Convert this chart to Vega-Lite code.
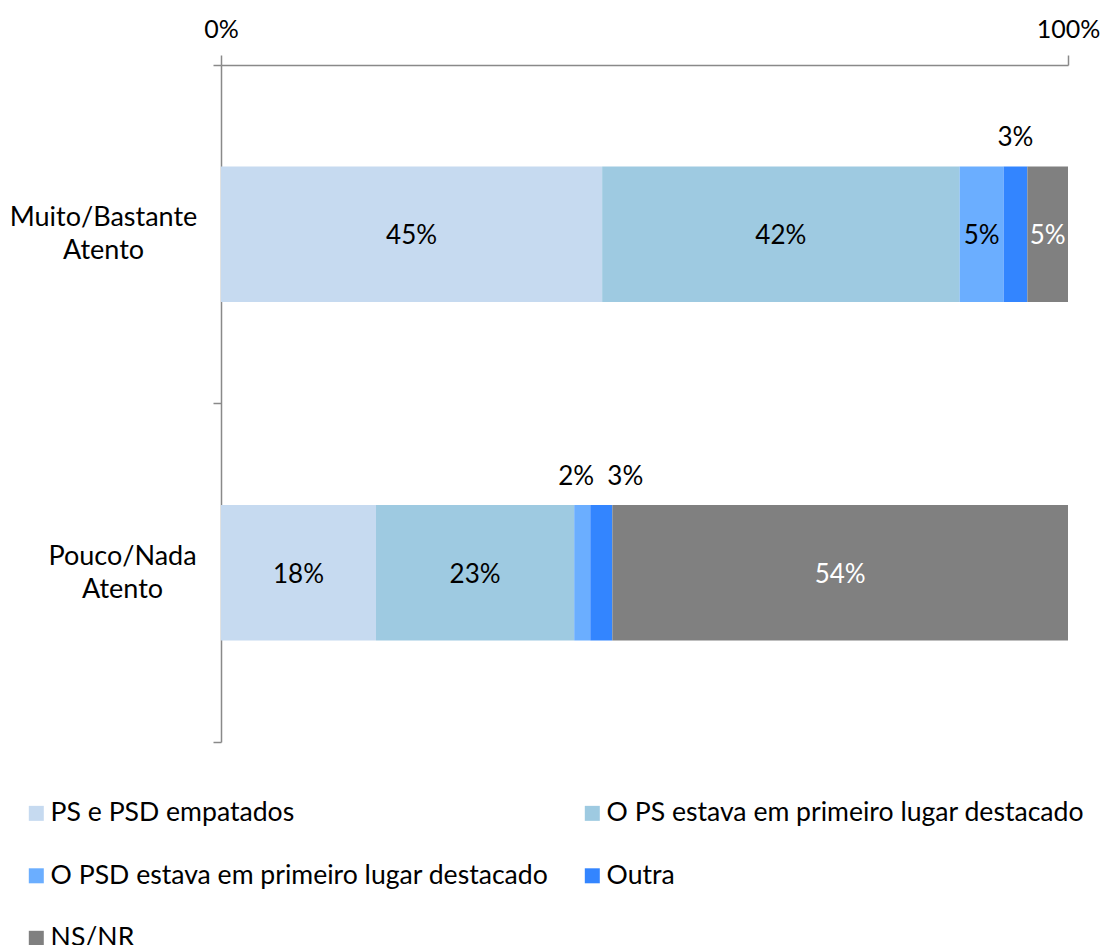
{
  "$schema": "https://vega.github.io/schema/vega-lite/v6.json",
  "width": 847,
  "height": 677,
  "autosize": "none",
  "padding": {"left": 221, "top": 65, "right": 37, "bottom": 203},
  "background": "white",
  "config": {
    "font": "Lato",
    "view": {"stroke": null},
    "axis": {"domainColor": "#898989", "tickColor": "#898989", "domainWidth": 1.5, "tickWidth": 1.5, "labelColor": "black", "labelFont": "Lato", "labelFontSize": 26, "grid": false}
  },
  "data": {
    "values": [
      {"cat": "Muito/Bastante Atento", "serie": "PS e PSD empatados", "k": 1, "value": 0.450},
      {"cat": "Muito/Bastante Atento", "serie": "O PS estava em primeiro lugar destacado", "k": 2, "value": 0.422},
      {"cat": "Muito/Bastante Atento", "serie": "O PSD estava em primeiro lugar destacado", "k": 3, "value": 0.052},
      {"cat": "Muito/Bastante Atento", "serie": "Outra", "k": 4, "value": 0.028},
      {"cat": "Muito/Bastante Atento", "serie": "NS/NR", "k": 5, "value": 0.048},
      {"cat": "Pouco/Nada Atento", "serie": "PS e PSD empatados", "k": 1, "value": 0.183},
      {"cat": "Pouco/Nada Atento", "serie": "O PS estava em primeiro lugar destacado", "k": 2, "value": 0.234},
      {"cat": "Pouco/Nada Atento", "serie": "O PSD estava em primeiro lugar destacado", "k": 3, "value": 0.019},
      {"cat": "Pouco/Nada Atento", "serie": "Outra", "k": 4, "value": 0.026},
      {"cat": "Pouco/Nada Atento", "serie": "NS/NR", "k": 5, "value": 0.538}
    ]
  },
  "encoding": {
    "y": {
      "field": "cat", "type": "nominal", "title": null,
      "sort": ["Muito/Bastante Atento", "Pouco/Nada Atento"],
      "scale": {"paddingInner": 0, "paddingOuter": 0},
      "axis": {
        "bandPosition": 1, "tickExtra": true, "tickSize": 8,
        "labelAlign": "center", "labelLineHeight": 33, "labelLimit": 400, "labelFontSize": 27,
        "labelOffset": -16,
        "labelPadding": {"condition": {"test": "datum.value === 'Muito/Bastante Atento'", "value": 110}, "value": 91},
        "labelExpr": "split(datum.label, ' ')"
      }
    },
    "order": {"field": "k", "type": "quantitative"}
  },
  "layer": [
    {
      "mark": {"type": "bar", "height": {"band": 0.4}},
      "encoding": {
        "x": {"field": "value", "type": "quantitative", "stack": "normalize", "scale": {"domain": [0, 1]}, "title": null,
          "axis": {"orient": "top", "values": [0, 1], "format": ".0%", "tickSize": 10, "labelPadding": 13, "labelFontSize": 25, "labelFlush": false}},
        "color": {
          "field": "serie", "type": "nominal",
          "scale": {
            "domain": ["PS e PSD empatados", "O PS estava em primeiro lugar destacado", "O PSD estava em primeiro lugar destacado", "Outra", "NS/NR"],
            "range": ["#C6DAF0", "#9ECAE1", "#6BAEFF", "#3385FF", "#808080"]
          },
          "legend": {
            "title": null, "orient": "none", "legendX": -198, "legendY": 735,
            "columns": 2, "direction": "horizontal",
            "symbolType": "square", "symbolSize": 225, "symbolStrokeWidth": 0,
            "labelFont": "Lato", "labelFontSize": 26.6, "labelColor": "black", "labelOffset": 1,
            "labelLimit": 700, "columnPadding": 30, "rowPadding": 35.5
          }
        }
      }
    },
    {
      "mark": {"type": "text", "font": "Lato", "fontSize": 26, "baseline": "middle",
        "dy": {"expr": "datum.value < 0.04 ? -96 : 2"},
        "dx": {"expr": "datum.cat === 'Pouco/Nada Atento' && datum.serie === 'Outra' ? 24 : (datum.cat === 'Pouco/Nada Atento' && datum.k === 3 ? -6 : 0)"}},
      "encoding": {
        "x": {"field": "value", "type": "quantitative", "stack": "normalize", "bandPosition": 0.5},
        "text": {"field": "value", "type": "quantitative", "format": ".0%"},
        "color": {"condition": {"test": "datum.serie === 'NS/NR'", "value": "white"}, "value": "black"}
      }
    }
  ]
}
